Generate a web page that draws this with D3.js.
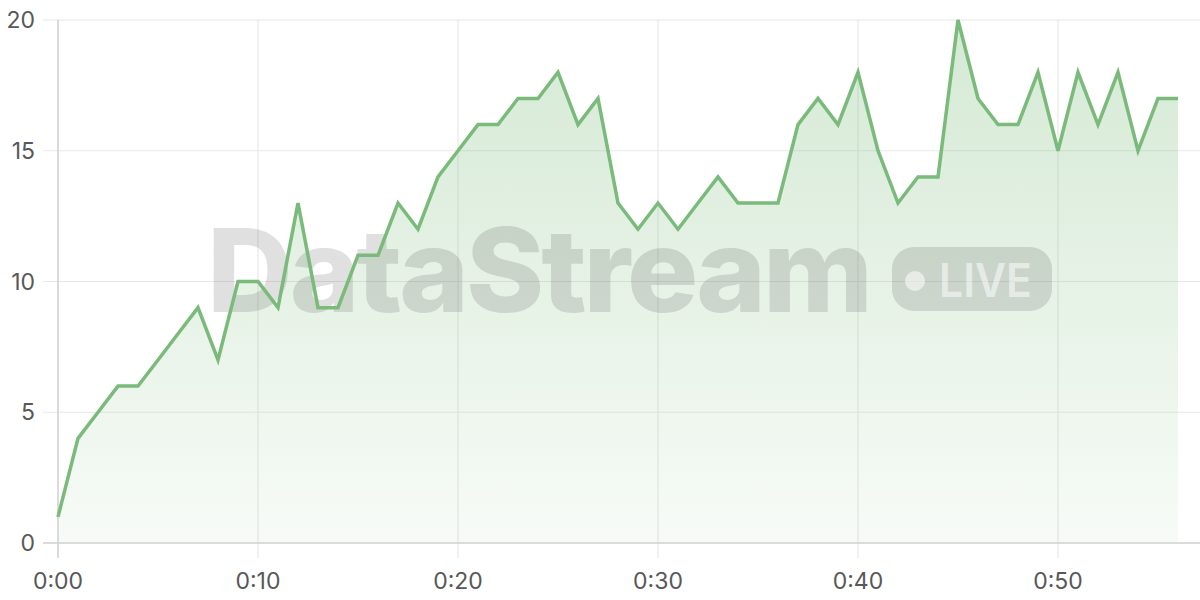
<!DOCTYPE html>
<html>
<head>
<meta charset="utf-8">
<script src="https://cdn.jsdelivr.net/npm/d3@7"></script>
<style>
  html, body { margin: 0; padding: 0; background: #fff; }
  svg { display: block; font-family: Inter, "Noto Sans", sans-serif; }
</style>
</head>
<body>
<div id="chart"></div>
<script>
// one reading per second
const seconds = d3.range(0, 57);
const values = [
  1, 4, 5, 6, 6, 7, 8, 9, 7, 10,
  10, 9, 13, 9, 9, 11, 11, 13, 12, 14,
  15, 16, 16, 17, 17, 18, 16, 17, 13, 12,
  13, 12, 13, 14, 13, 13, 13, 16, 17, 16,
  18, 15, 13, 14, 14, 20, 17, 16, 16, 18,
  15, 18, 16, 18, 15, 17, 17
];
const xTicks = [0, 10, 20, 30, 40, 50];
const yTicks = [0, 5, 10, 15, 20];

const width = 1200, height = 600;
const margin = { top: 20, right: 0, bottom: 57, left: 58 };

const data = seconds.map((s, i) => ({ s, v: values[i] }));

const x = d3.scaleLinear().domain([0, 56]).range([margin.left, margin.left + 56 * 20]);
const y = d3.scaleLinear().domain([0, 20]).range([height - margin.bottom, margin.top]);

const fmt = s => `${Math.floor(s / 60)}:${String(s % 60).padStart(2, '0')}`;

const svg = d3.select('#chart').append('svg')
    .attr('width', width)
    .attr('height', height);

const defs = svg.append('defs');
const grad = defs.append('linearGradient')
    .attr('id', 'areaFill')
    .attr('x1', 0).attr('y1', 0).attr('x2', 0).attr('y2', 1);
grad.append('stop').attr('offset', '0%').attr('stop-color', '#7aba7a').attr('stop-opacity', 0.32);
grad.append('stop').attr('offset', '100%').attr('stop-color', '#7aba7a').attr('stop-opacity', 0.06);

// gridlines
const grid = svg.append('g').attr('stroke', '#e8e8e8').attr('stroke-width', 1.2);
grid.selectAll('line.h')
    .data(yTicks.filter(d => d > 0))
    .join('line')
    .attr('x1', margin.left - 15).attr('x2', width)
    .attr('y1', d => y(d)).attr('y2', d => y(d));
grid.selectAll('line.v')
    .data(xTicks.filter(d => d > 0))
    .join('line')
    .attr('x1', d => x(d)).attr('x2', d => x(d))
    .attr('y1', margin.top).attr('y2', y(0) + 15);

// area
const area = d3.area()
    .x(d => x(d.s))
    .y0(y(0))
    .y1(d => y(d.v));

svg.append('path')
    .datum(data)
    .attr('fill', 'url(#areaFill)')
    .attr('d', area);

// watermark
const wm = svg.append('g').attr('fill', 'rgba(60,60,60,0.16)');
wm.append('text')
    .attr('x', 207).attr('y', 312)
    .attr('font-size', 116)
    .attr('font-weight', 800)
    .attr('letter-spacing', -3)
    .attr('textLength', 663)
    .attr('lengthAdjust', 'spacingAndGlyphs')
    .text('DataStream');
wm.append('rect')
    .attr('x', 892).attr('y', 247)
    .attr('width', 160).attr('height', 64)
    .attr('rx', 22);
const live = svg.append('g').attr('fill', 'rgba(255,255,255,0.55)');
live.append('circle').attr('cx', 915).attr('cy', 281).attr('r', 10);
live.append('text')
    .attr('x', 939).attr('y', 297)
    .attr('font-size', 47)
    .attr('font-weight', 600)
    .attr('textLength', 93)
    .attr('lengthAdjust', 'spacingAndGlyphs')
    .text('LIVE');

// axes
const axisColor = '#cfcfcf';
svg.append('line')
    .attr('x1', margin.left).attr('x2', margin.left)
    .attr('y1', margin.top).attr('y2', y(0) + 15)
    .attr('stroke', axisColor).attr('stroke-width', 1.5);
svg.append('line')
    .attr('x1', margin.left - 15).attr('x2', width)
    .attr('y1', y(0)).attr('y2', y(0))
    .attr('stroke', axisColor).attr('stroke-width', 1.5);

// line
const line = d3.line()
    .x(d => x(d.s))
    .y(d => y(d.v));

svg.append('path')
    .datum(data)
    .attr('fill', 'none')
    .attr('stroke', '#7aba7a')
    .attr('stroke-width', 3.5)
    .attr('stroke-linejoin', 'miter')
    .attr('d', line);

// tick labels
svg.append('g')
    .attr('font-size', 23)
    .attr('fill', '#585858')
    .attr('text-anchor', 'middle')
    .selectAll('text')
    .data(xTicks)
    .join('text')
    .attr('x', d => x(d))
    .attr('y', 589)
    .text(fmt);

svg.append('g')
    .attr('font-size', 23)
    .attr('fill', '#585858')
    .attr('text-anchor', 'end')
    .selectAll('text')
    .data(yTicks)
    .join('text')
    .attr('x', 35)
    .attr('y', d => y(d) + 8)
    .text(d => d);
</script>
</body>
</html>
